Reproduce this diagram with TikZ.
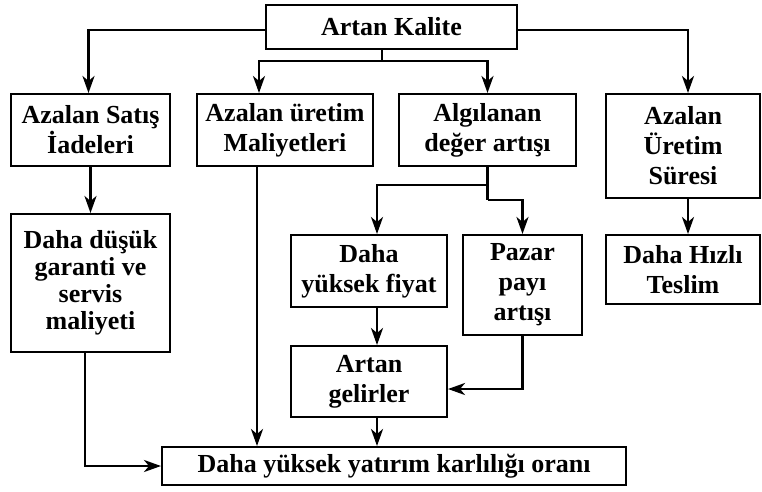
\documentclass[tikz,border=0pt]{standalone}
\usepackage{fontspec}
\setmainfont{Liberation Serif}
\usetikzlibrary{arrows.meta,calc}
\begin{document}
\begin{tikzpicture}[x=1pt,y=-1pt,
  box/.style={draw=black,line width=2pt,rectangle,inner sep=0pt,align=center,
    font=\fontsize{26}{30}\selectfont\bfseries},
  conn/.style={line width=2.6pt,-{Stealth[length=17pt,width=12pt,inset=5pt]}},
  plain/.style={line width=2.6pt}]
\useasboundingbox[fill=white] (0,0) rectangle (762,491);
\node[box,minimum width=251pt,minimum height=44pt] (AK) at (391.5,27) {Artan Kalite};
\node[box,minimum width=159pt,minimum height=72pt] (AS) at (90.5,130) {Azalan Satış\\İadeleri};
\node[box,minimum width=176pt,minimum height=72pt] (AU) at (285,130) {Azalan üretim\\Maliyetleri};
\node[box,minimum width=177pt,minimum height=72pt] (AD) at (487.5,130) {Algılanan\\değer artışı};
\node[box,minimum width=154pt,minimum height=104pt] (US) at (683,146) {Azalan\\Üretim\\Süresi};
\node[box,minimum width=159pt,minimum height=138pt,font=\fontsize{26}{27}\selectfont\bfseries] (DD) at (90.5,283) {Daha düşük\\garanti ve\\servis\\maliyeti};
\node[box,minimum width=156pt,minimum height=72pt] (DY) at (369,271) {Daha\\yüksek fiyat};
\node[box,minimum width=119pt,minimum height=100pt] (PZ) at (522.5,285) {Pazar\\payı\\artışı};
\node[box,minimum width=154pt,minimum height=69pt] (HT) at (683,269.5) {Daha Hızlı\\Teslim};
\node[box,minimum width=156pt,minimum height=71pt] (AG) at (369,381.5) {Artan\\gelirler};
\node[box,minimum width=464pt,minimum height=38pt] (YK) at (394,466) {Daha yüksek yatırım karlılığı oranı};

% from Artan Kalite
\draw[conn] ([yshift=-3pt]AK.west) -| ([xshift=-2pt]AS.north);
\draw[conn] ([yshift=-3pt]AK.east) -| ([xshift=5pt]US.north);
\coordinate (b1) at ([xshift=-9.5pt]AK.south);
\coordinate (b2) at ($(b1)+(0,11)$);
\draw[plain] (b1) -- (b2);
\draw[conn] (b2) -| ([xshift=-26pt]AU.north);
\draw[conn] (b2) -| (AD.north);
% from Algılanan
\coordinate (c1) at (AD.south);
\coordinate (c2) at ($(c1)+(0,18)$);
\coordinate (c3) at ($(c1)+(0,33)$);
\draw[plain] (c1) -- (c3);
\draw[conn] (c2) -| ([xshift=8pt]DY.north);
\draw[conn] (c3) -| (PZ.north);
% left column
\draw[conn] (AS.south) -- (DD.north);
\coordinate (d1) at ([xshift=-5.5pt]DD.south);
\draw[conn] (d1) |- (YK.west);
% Azalan üretim to bottom
\draw[conn] ([xshift=-28pt]AU.south) -- ([xshift=-28pt]AU.south |- YK.north);
% middle
\draw[conn] ([xshift=8pt]DY.south) -- ([xshift=8pt]AG.north);
\draw[conn] (PZ.south) |- ([yshift=-7.5pt]AG.east);
\draw[conn] ([xshift=8pt]AG.south) -- ([xshift=8pt]AG.south |- YK.north);
% right
\draw[conn] ([xshift=5pt]US.south) -- ([xshift=5pt]HT.north);
\end{tikzpicture}
\end{document}
